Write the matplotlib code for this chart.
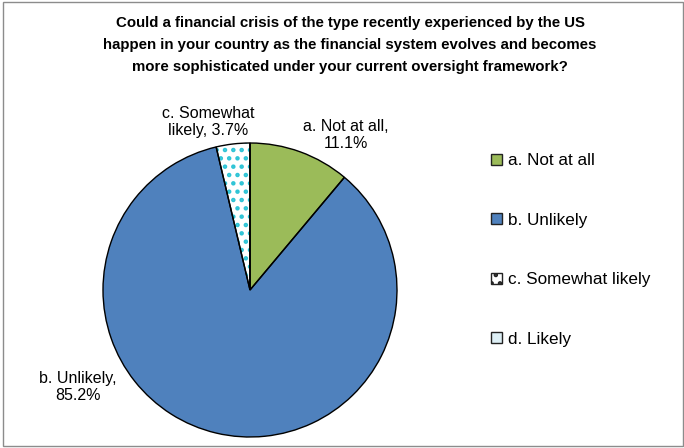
import matplotlib
matplotlib.use('Agg')
import matplotlib.pyplot as plt
from matplotlib.patches import Patch, Rectangle

plt.rcParams['font.family'] = ['Liberation Sans', 'DejaVu Sans']
plt.rcParams['hatch.linewidth'] = 2.0

# --- survey answers ---
categories = ['a. Not at all', 'b. Unlikely', 'c. Somewhat likely', 'd. Likely']
shares = [11.1, 85.2, 3.7, 0.0]
fills = ['#9BBB59', '#4F81BD', 'white', '#DDEFF5']
hatches = [None, None, '..', None]
hatch_color = '#2EC4D6'

title = ('Could a financial crisis of the type recently experienced by the US\n'
         'happen in your country as the financial system evolves and becomes\n'
         'more sophisticated under your current oversight framework?')

W, H = 684, 448
fig = plt.figure(figsize=(W / 100, H / 100), dpi=100)

# grey outer frame
fig.patches.append(Rectangle((3 / W, 2 / H), 680 / W, 444 / H, transform=fig.transFigure,
                             fill=False, edgecolor='#8C8C8C', linewidth=1.0))

fig.text(350 / W, 1 - 16 / H, title, ha='center', va='top', fontsize=10.8,
         fontweight='bold', linespacing=1.72)

# pie axes: centre (250, 290) px, radius 147 px
r = 147
cx, cy = 250, 290
half = 160
ax = fig.add_axes([(cx - half) / W, (H - cy - half) / H, 2 * half / W, 2 * half / H])

# fill layer (hatch colour comes from edgecolor)
wedges, _ = ax.pie(shares, colors=fills, startangle=90, counterclock=False,
                   wedgeprops=dict(linewidth=0))
for w, h in zip(wedges, hatches):
    if h:
        w.set_hatch(h)
        w.set_edgecolor(hatch_color)
# outline layer
ax.pie(shares, colors=['none'] * len(shares), startangle=90, counterclock=False,
       wedgeprops=dict(linewidth=1.0, edgecolor='black', fill=False))

lim = half / r
ax.set_xlim(-lim, lim)
ax.set_ylim(-lim, lim)
ax.set_aspect('equal')
ax.axis('off')

# data labels
label_pos = {0: (346, 135), 1: (78, 387), 2: (208, 122)}
for i, (x, y) in label_pos.items():
    name = categories[i]
    if i == 2:
        txt = f'c. Somewhat\nlikely, {shares[i]}%'
    else:
        txt = f'{name},\n{shares[i]}%'
    fig.text(x / W, 1 - y / H, txt, ha='center', va='center', fontsize=11.5,
             linespacing=1.1)

# legend
handles = []
for c, h in zip(fills, hatches):
    p = Patch(facecolor=c, edgecolor='#222222', linewidth=1.0, hatch=h)
    handles.append(p)
leg = fig.legend(handles, categories, loc='upper left', bbox_to_anchor=(476 / W, 1 - 138 / H),
                 frameon=False, fontsize=12.3, handlelength=0.6, handleheight=0.6,
                 handletextpad=0.35, labelspacing=2.6)

fig.savefig('out.png', dpi=100)
